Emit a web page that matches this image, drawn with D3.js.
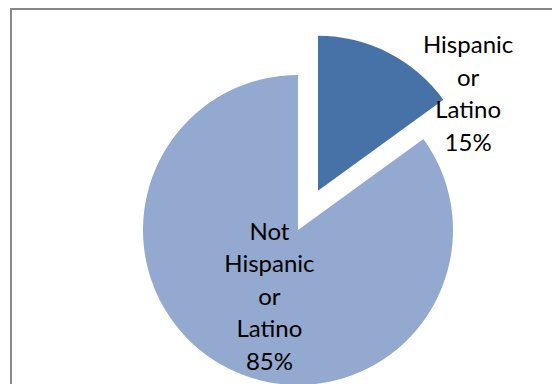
<!DOCTYPE html>
<html>
<head>
<meta charset="utf-8">
<script src="https://cdn.jsdelivr.net/npm/d3@7"></script>
<style>
  body { margin: 0; background: #fff; }
  svg text { font-family: Lato, "Liberation Sans", sans-serif; font-size: 24px; fill: #000; }
</style>
</head>
<body>
<div class="pie-chart"></div>
<script>
const categories = ['Hispanic or Latino', 'Not Hispanic or Latino']
const labelLines = [['Hispanic', 'or', 'Latino'], ['Not', 'Hispanic', 'or', 'Latino']]
const shares = [15, 85]
const colors = ['#4672a7', '#94a9cf']

const width = 552
const height = 384
const radius = 155
const center = {x: 298, y: 230}
const explode = 44
const lineHeight = 32.5

const svg = d3.select(".pie-chart").append("svg")
    .attr("width", width)
    .attr("height", height)

// chart area frame (runs off the right and bottom edges)
svg.append("rect")
    .attr("x", 11)
    .attr("y", 9)
    .attr("width", width + 20)
    .attr("height", height + 20)
    .attr("fill", "none")
    .attr("stroke", "#888")
    .attr("stroke-width", 2)

const pie = d3.pie()
    .sort(null)
    .value(d => d)

const arcs = pie(shares)

const arc = d3.arc()
    .innerRadius(0)
    .outerRadius(radius)

const g = svg.append("g")
    .attr("transform", `translate(${center.x},${center.y})`)

// the first slice is pulled out along its middle angle
const offset = (d, i) => {
    if (i !== 0) return [0, 0]
    const a = (d.startAngle + d.endAngle) / 2
    return [Math.sin(a) * explode, -Math.cos(a) * explode]
}

g.selectAll("path")
    .data(arcs)
    .join("path")
    .attr("d", arc)
    .attr("fill", (d, i) => colors[i])
    .attr("transform", (d, i) => `translate(${offset(d, i)})`)

// label positions: inside for the big slice, outside (best fit) for the small one
const labelArc = d3.arc()
    .innerRadius(0)
    .outerRadius(radius * 1.04)

const labelPos = (d, i) => {
    if (i === 0) {
        const [ox, oy] = offset(d, i)
        const a = d.endAngle
        return [ox + Math.sin(a) * radius * 0.95 + 31, oy - Math.cos(a) * radius * 0.95 - 10]
    }
    const [cx, cy] = labelArc.centroid(d)
    return [cx + 8, cy - 5]
}

const labels = g.selectAll("text")
    .data(arcs)
    .join("text")
    .attr("text-anchor", "middle")
    .attr("transform", (d, i) => `translate(${labelPos(d, i)})`)

labels.each(function(d, i) {
    const lines = labelLines[i].concat([shares[i] + "%"])
    const n = lines.length
    d3.select(this).selectAll("tspan")
        .data(lines)
        .join("tspan")
        .attr("x", 0)
        .attr("y", (t, j) => (j - (n - 1) / 2) * lineHeight + 8)
        .text(t => t)
})
</script>
</body>
</html>
